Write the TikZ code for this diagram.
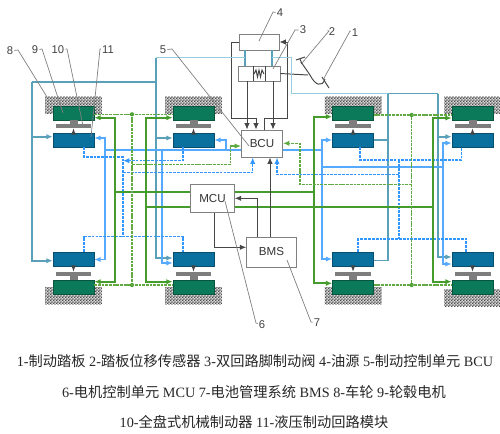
\documentclass[tikz,border=0pt]{standalone}
\usepackage{fontspec}
\setmainfont{Liberation Serif}
\newfontfamily\cjk{Noto Sans CJK SC}
\newfontfamily\lblfont{Liberation Sans}
\usetikzlibrary{arrows.meta,patterns}
\pgfdeclarepatternformonly{finedots}{\pgfpointorigin}{\pgfqpoint{1.8pt}{1.8pt}}{\pgfqpoint{1.8pt}{1.8pt}}{
	\pgfpathrectangle{\pgfqpoint{0pt}{0pt}}{\pgfqpoint{0.9pt}{0.9pt}}
	\pgfpathrectangle{\pgfqpoint{0.9pt}{0.9pt}}{\pgfqpoint{0.9pt}{0.9pt}}
	\pgfusepath{fill}
}
\definecolor{motorblock}{RGB}{10, 122, 90}
\definecolor{hydblock}{RGB}{10, 112, 158}
\definecolor{discgrey}{RGB}{125, 125, 125}
\definecolor{tealwire}{RGB}{90, 160, 185}
\definecolor{palewire}{RGB}{150, 205, 225}
\definecolor{bluewire}{RGB}{85, 170, 255}
\definecolor{bluedash}{RGB}{50, 150, 255}
\definecolor{greenwire}{RGB}{70, 155, 45}
\definecolor{greendash}{RGB}{95, 170, 65}
\definecolor{blackwire}{RGB}{70, 70, 70}
\newcommand{\zh}[1]{{\cjk #1}}
\tikzset{
	arr/.style={-{Latex[length=3.6pt,width=3pt]}},
	block/.style={inner sep=0pt, minimum width=0.82cm, minimum height=0.28cm},
	motor/.style={block, fill=motorblock, draw=motorblock!70!black, line width=0.3pt},
	hyd/.style={block, fill=hydblock, draw=hydblock!70!black, line width=0.3pt},
	disc/.style={inner sep=0pt, minimum width=0.72cm, minimum height=0.08cm, fill=discgrey},
	hub/.style={inner sep=0pt, minimum width=0.16cm, minimum height=0.08cm, fill=discgrey},
	ground/.style={inner sep=0pt, minimum width=1.14cm, minimum height=0.34cm, fill=gray!30,
		postaction={pattern=finedots, pattern color=black!70}},
	unit/.style={draw=black!50, fill=white, line width=0.5pt, inner sep=0pt, font=\lblfont\fontsize{6.6}{7}\selectfont, text=black!80},
	tealw/.style={draw=tealwire, line width=1pt},
	palew/.style={draw=palewire, line width=1pt},
	bluew/.style={draw=bluewire, line width=1.1pt},
	blued/.style={draw=bluedash, line width=0.8pt, dash pattern=on 1.6pt off 0.6pt},
	greenw/.style={draw=greenwire, line width=1.05pt},
	greend/.style={draw=greendash, line width=0.85pt, dash pattern=on 1.6pt off 0.5pt},
	blackw/.style={draw=blackwire, line width=0.55pt},
	leader/.style={draw=black!50, line width=0.4pt},
	jdot/.style={circle, fill=greenwire, inner sep=0pt, minimum size=2.4pt},
	lbl/.style={inner sep=0.5pt, text=black!75, font=\lblfont\fontsize{6.4}{7}\selectfont},
	caption/.style={inner sep=0pt, text=black!85, font=\fontsize{8.1}{9.5}\selectfont}
}
\begin{document}
\begin{tikzpicture}[x=0.02cm, y=-0.02cm]
	\useasboundingbox (0,0) rectangle (500,433);
	
	% Wheels: top row and bottom row
	\foreach \nm/\xc/\ya in {a/73.5/295.5, b/193.5/295.5, c/353/295.5, d/472.5/297.5}{
		\node[ground] (gndt\nm) at (\xc,105) {};
		\node[motor] (mott\nm) at (\xc,113) {};
		\node[hub] (hubt\nm) at (\xc,122) {};
		\node[disc] (dsct\nm) at (\xc,126) {};
		\node[hyd] (hydt\nm) at (\xc,140) {};
		\draw[blackw, arr] (hydt\nm) -- (dsct\nm);
		\node[ground] (gndb\nm) at (\xc,\ya) {};
		\node[motor] (motb\nm) at (\xc,287) {};
		\node[hub] (hubb\nm) at (\xc,278) {};
		\node[disc] (dscb\nm) at (\xc,274) {};
		\node[hyd] (hydb\nm) at (\xc,259.5) {};
		\draw[blackw, arr] (hydb\nm) -- (dscb\nm);
	}
	
	% Units
	\node[unit, minimum width=0.8cm, minimum height=0.32cm] (oil) at (259,42) {};
	\node[unit, minimum width=0.84cm, minimum height=0.3cm] (valve) at (259,73.5) {};
	\node[unit, minimum width=0.82cm, minimum height=0.54cm] (bcu) at (262,143.5) {BCU};
	\node[unit, minimum width=0.87cm, minimum height=0.55cm] (mcu) at (212.5,198.5) {MCU};
	\node[unit, minimum width=0.99cm, minimum height=0.6cm] (bms) at (271.5,252) {BMS};
	\draw[blackw] (253,0 |- valve.north) -- (253,0 |- valve.south);
	\draw[blackw] (265,0 |- valve.north) -- (265,0 |- valve.south);
	\draw[blackw] (254,74) -- (256,70) -- (257.5,77) -- (259,70) -- (260.5,77) -- (262,70) -- (264,74);
	
	% Oil and brake lines to BCU
	\draw[tealw, line width=1.3pt] (245,0 |- oil.south) -- (245,0 |- valve.north);
	\draw[tealw, line width=1.3pt] (272,0 |- oil.south) -- (272,0 |- valve.north);
	\draw[blackw, arr] (oil.west) -| (231.5,118) -| (256,0 |- bcu.north);
	\draw[blackw, arr] (264,0 |- bcu.north) |- (287,118) |- (oil.east);
	\draw[blackw, arr] (247,0 |- valve.south) -- (247,0 |- bcu.north);
	\draw[blackw, arr] (273,0 |- valve.south) -- (273,0 |- bcu.north);
	
	% Pedal
	\coordinate (pedalend) at (308,75);
	\draw[blackw] (valve.east) -- (pedalend);
	\draw[blackw] (301,62) -- (310,75) .. controls (315,85) and (322,88) .. (325,79);
	\draw[blackw] (322,77) -- (329,88);
	\draw[blackw] (296,60) -- (305,57);
	\draw[blackw] (300,59) -- (302,64);
	
	% Teal lines
	\draw[palew] (155.7,57.5) -- (245,57.5);
	\draw[palew] (272,57.5) -- (291.5,57.5) -- (291.5,93.5) -- (388,93.5);
	\draw[tealw] (388,93.5) -- (438,93.5);
	\draw[tealw, arr] (438,93.5) |- (hydtd.west |- 0,136.7);
	\draw[tealw, arr] (438,136.7) |- (hydbd.west |- 0,257);
	\draw[tealw] (388,93.5) |- (hydbc.east |- 0,260.5);
	\draw[tealw] (388,140) -- (hydtc.east |- 0,140);
	\draw[tealw, arr] (155.7,57.5) |- (hydbb.west |- 0,258);
	\draw[tealw, arr] (155.7,138) -- (hydtb.west |- 0,138);
	\draw[tealw] (155.7,81.7) -- (32,81.7);
	\draw[tealw, arr] (32,81.7) |- (hydba.west |- 0,260.7);
	\draw[tealw, arr] (32,136.7) -- (hydta.west |- 0,136.7);
	
	% Blue solid lines
	\draw[bluew] (104.7,150) -- (bcu.west |- 0,150);
	\draw[bluew, arr] (104.7,150) |- (hydta.east |- 0,138);
	\draw[bluew, arr] (104.7,150) |- (hydba.east |- 0,259.5);
	\draw[bluew, arr] (226,150) |- (hydtb.east |- 0,140);
	\draw[bluew, arr] (162,150) |- (hydbb.west |- 0,263);
	\draw[bluew] (bcu.east |- 0,150) -- (322,150);
	\draw[bluew, arr] (322,150) |- (hydtc.west |- 0,140);
	\draw[bluew, arr] (322,150) |- (hydbc.west |- 0,259);
	\draw[bluew] (322,167) -- (442.7,167);
	\draw[bluew, arr] (442.7,167) |- (hydtd.west |- 0,143);
	\draw[bluew, arr] (442.7,167) |- (hydbd.west |- 0,264);
	
	% Blue dashed lines
	\draw[blued] (84,0 |- hydta.south) |- (123,157) -- (123,236.7);
	\draw[blued, arr] (183,0 |- hydtb.south) |- (123,160.7);
	\draw[blued] (84,0 |- hydba.north) |- (183,236.7) -- (183,0 |- hydbb.north);
	\draw[blued, arr] (123,172.5) -| (252.7,0 |- bcu.south);
	\draw[blued, arr] (399,174.5) -| (277,0 |- bcu.south);
	\draw[blued] (360,0 |- hydtc.south) |- (461.7,160) -- (461.7,0 |- hydtd.south);
	\draw[blued] (399,160) -- (399,239);
	\draw[blued] (358,0 |- hydbc.north) |- (466,239) -- (466,0 |- hydbd.north);
	
	% Green solid lines
	\draw[greenw, arr] (115,191.7) |- (motta.east |- 0,117.7);
	\draw[greenw, arr] (115,191.7) |- (motba.east |- 0,281.7);
	\draw[greenw] (115,191.7) -- (mcu.west |- 0,191.7);
	\draw[greenw, arr] (146,206.7) |- (mottb.west |- 0,117.7);
	\draw[greenw, arr] (146,206.7) |- (motbb.west |- 0,281.7);
	\draw[greenw] (146,206.7) -- (mcu.west |- 0,206.7);
	\draw[greenw] (mcu.east |- 0,191.7) -- (313.7,191.7);
	\draw[greenw, arr] (313.7,191.7) |- (mottc.west |- 0,116.7);
	\draw[greenw, arr] (313.7,191.7) |- (motbc.west |- 0,283.3);
	\draw[greenw] (mcu.east |- 0,206.7) -- (433,206.7);
	\draw[greenw, arr] (433,206.7) |- (mottd.west |- 0,118);
	\draw[greenw, arr] (433,206.7) |- (motbd.west |- 0,281.7);
	
	% Green dashed lines
	\node[jdot] (jgl) at (132,114.3) {};
	\node[jdot] (jgk) at (132,285) {};
	\node[jdot] (jgr) at (411.7,115) {};
	\node[jdot] (jgs) at (411.7,285) {};
	\draw[greend] (jgl) -- (jgk);
	\draw[greend] (jgr) -- (jgs);
	\draw[greend] (motta.east |- jgl) -- (mottb.west |- jgl);
	\draw[greend] (motba.east |- jgk) -- (motbb.west |- jgk);
	\draw[greend] (mottc.east |- jgr) -- (mottd.west |- jgr);
	\draw[greend] (motbc.east |- jgs) -- (motbd.west |- jgs);
	\draw[greend, arr] (132,164.3) -| (230.7,146) -- (bcu.west |- 0,146);
	\draw[greend, arr] (411.7,184.3) -| (300,143.3) -- (bcu.east |- 0,143.3);
	
	% BMS and MCU
	\draw[blackw, arr] (270,0 |- bms.north) -- (270,0 |- bcu.south);
	\draw[blackw, arr] (257.3,0 |- bms.north) |- (mcu.east |- 0,198.3);
	\draw[blackw, arr] (214,0 |- mcu.south) |- (bms.west |- 0,247.3);
	
	% Numbered labels with leaders
	\foreach \lab/\lx/\ly/\bx/\by/\tx/\ty in {
		1/355/33/350/31/323/80, 2/332/32/329/31/302/63,
		3/303/30/295/30/273/69, 4/280/13/273/12/259/41,
		5/163/50/172/49/249/146, 6/262/325/256/323/225/201,
		7/317/323/311/322/287/260, 8/10/51/18/50/47/97,
		9/35/50/42/49/63/113, 10/58/50/67/49/83/126,
		11/108/50/100/49/91/137}{
		\node[lbl] (lb\lab) at (\lx,\ly) {\lab};
		\coordinate (to\lab) at (\tx,\ty);
		\draw[leader] (lb\lab) -- (\bx,\by) -- (to\lab);
	}
	
	% Caption
	\node[caption] (capa) at (255,361) {1-\zh{制动踏板} 2-\zh{踏板位移传感器} 3-\zh{双回路脚制动阀} 4-\zh{油源} 5-\zh{制动控制单元} BCU};
	\node[caption] (capb) at (254,392) {6-\zh{电机控制单元} MCU 7-\zh{电池管理系统} BMS 8-\zh{车轮} 9-\zh{轮毂电机}};
	\node[caption] (capc) at (254,422) {10-\zh{全盘式机械制动器} 11-\zh{液压制动回路模块}};
\end{tikzpicture}
\end{document}
